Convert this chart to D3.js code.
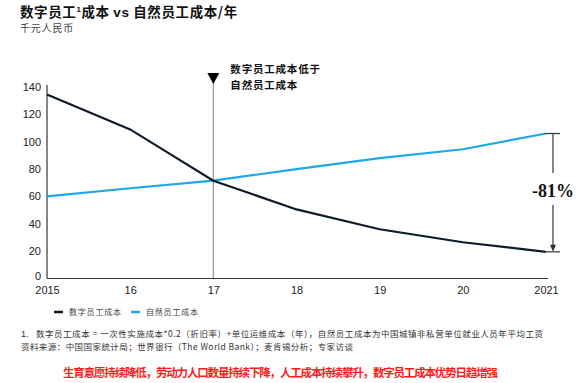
<!DOCTYPE html>
<html><head><meta charset="utf-8">
<script src="https://cdn.jsdelivr.net/npm/d3@7"></script>
<style>body{margin:0;background:#fff}svg{display:block}</style>
</head><body>
<script>
const years = ["2015","16","17","18","19","20","2021"];
const digitalCost = [134.5, 109, 71.5, 50.5, 36, 26.5, 19.5];
const naturalCost = [60, 66, 71.5, 80, 88, 94.5, 106];
const yTicks = [0,20,40,60,80,100,120,140];
const seriesNames = ["数字员工成本","自然员工成本"];
const colors = ["#0f1a2b","#1ea8ea"];

const W=580,H=383;
const svg=d3.select("body").append("svg").attr("width",W).attr("height",H);
const cjk="'Noto Sans CJK SC','Noto Sans',sans-serif";
const arial="'Liberation Sans',Arial,sans-serif";

const x=d3.scalePoint().domain(years).range([47,546]);
const y=d3.scaleLinear().domain([0,140]).range([278.5,87]);

// title
const t=svg.append("text").attr("x",20).attr("y",17).attr("font-family",cjk).attr("font-weight","bold").attr("font-size",13.5).attr("fill","#111").attr("letter-spacing",0.6);
t.append("tspan").text("数字员工");
t.append("tspan").text("1").attr("font-family",arial).attr("font-size",8).attr("dy",-5);
t.append("tspan").text("成本 ").attr("dy",5);
t.append("tspan").text("vs").attr("font-family",arial);
t.append("tspan").text(" 自然员工成本/年");
svg.append("text").attr("x",20).attr("y",32).attr("font-family",cjk).attr("font-size",10).attr("fill","#444").attr("letter-spacing",0.8).text("千元人民币");

// axes
const ya=svg.append("g").attr("transform","translate(47,0)").call(d3.axisLeft(y).tickValues(yTicks).tickSize(0).tickPadding(6));
ya.select(".domain").remove();
ya.selectAll("text").attr("font-family",arial).attr("font-size",11).attr("fill","#222");
ya.selectAll(".tick").filter(d=>d===0).select("text").attr("dy","0.1em");
svg.append("line").attr("x1",47).attr("x2",47).attr("y1",85).attr("y2",278.5).attr("stroke","#333").attr("stroke-width",1.2);
const xa=svg.append("g").attr("transform","translate(0,278.5)").call(d3.axisBottom(x).tickSize(0).tickPadding(8));
xa.select(".domain").remove();
xa.selectAll("text").attr("font-family",arial).attr("font-size",11).attr("fill","#222");
svg.append("line").attr("x1",47).attr("x2",548).attr("y1",278.5).attr("y2",278.5).attr("stroke","#333").attr("stroke-width",1.2);

// 2017 marker
const x17=x("17");
svg.append("line").attr("x1",x17).attr("x2",x17).attr("y1",82).attr("y2",278).attr("stroke","#9a9a9a").attr("stroke-width",1.3);
svg.append("path").attr("d",`M${x17-6},73 L${x17+6},73 L${x17},84 Z`).attr("fill","#000");
svg.append("text").attr("x",x17+17).attr("y",73).attr("font-family",cjk).attr("font-weight","bold").attr("font-size",10.5).attr("fill","#111").attr("letter-spacing",0.8).text("数字员工成本低于");
svg.append("text").attr("x",x17+17).attr("y",89).attr("font-family",cjk).attr("font-weight","bold").attr("font-size",10.5).attr("fill","#111").attr("letter-spacing",0.8).text("自然员工成本");

// lines
const line=d3.line().x((d,i)=>x(years[i])).y(d=>y(d));
svg.append("path").datum(naturalCost).attr("d",line).attr("fill","none").attr("stroke",colors[1]).attr("stroke-width",2.2);
svg.append("path").datum(digitalCost).attr("d",line).attr("fill","none").attr("stroke",colors[0]).attr("stroke-width",2.2);

// bracket
const bx=553, yt=y(naturalCost[6]), yb=y(digitalCost[6]);
svg.append("line").attr("x1",545).attr("x2",560).attr("y1",yt).attr("y2",yt).attr("stroke","#333").attr("stroke-width",1.2);
svg.append("line").attr("x1",545).attr("x2",560).attr("y1",yb).attr("y2",yb).attr("stroke","#333").attr("stroke-width",1.2);
svg.append("line").attr("x1",bx).attr("x2",bx).attr("y1",yt).attr("y2",173).attr("stroke","#333").attr("stroke-width",1.2);
svg.append("line").attr("x1",bx).attr("x2",bx).attr("y1",205).attr("y2",yb-5).attr("stroke","#333").attr("stroke-width",1.2);
svg.append("path").attr("d",`M${bx-3},${yb-7} L${bx+3},${yb-7} L${bx},${yb} Z`).attr("fill","#333");
svg.append("text").attr("x",bx).attr("y",197).attr("text-anchor","middle").attr("font-family","'Liberation Serif','DejaVu Serif',serif").attr("font-weight","bold").attr("font-size",18).attr("fill","#111").text("-81%");

// legend
const lg=[{x:54,i:0},{x:131,i:1}];
lg.forEach(d=>{
  svg.append("line").attr("x1",d.x).attr("x2",d.x+9).attr("y1",312).attr("y2",312).attr("stroke",colors[d.i]).attr("stroke-width",2.5);
  svg.append("text").attr("x",d.x+15).attr("y",315).attr("font-family",cjk).attr("font-size",8).attr("fill","#444").attr("letter-spacing",0.8).text(seriesNames[d.i]);
});

// footnotes
svg.append("text").attr("x",21).attr("y",337).attr("font-family",arial).attr("font-size",9).attr("fill","#333").text("1.");
svg.append("text").attr("x",36).attr("y",337).attr("font-family",cjk).attr("font-size",8.5).attr("fill","#333").attr("textLength",507).attr("lengthAdjust","spacing").text("数字员工成本 = 一次性实施成本*0.2（折旧率）+单位运维成本（年），自然员工成本为中国城镇非私营单位就业人员年平均工资");
svg.append("text").attr("x",21).attr("y",349.5).attr("font-family",cjk).attr("font-size",8.5).attr("fill","#333").attr("textLength",332).attr("lengthAdjust","spacing").text("资料来源：中国国家统计局；世界银行（The World Bank）；麦肯锡分析；专家访谈");
svg.append("text").attr("x",63).attr("y",376.5).attr("font-family",cjk).attr("font-weight","bold").attr("font-size",11.5).attr("fill","#ff1a1a").attr("textLength",435).attr("lengthAdjust","spacing").text("生育意愿持续降低，劳动力人口数量持续下降，人工成本持续攀升，数字员工成本优势日趋增强");
</script>
</body></html>
